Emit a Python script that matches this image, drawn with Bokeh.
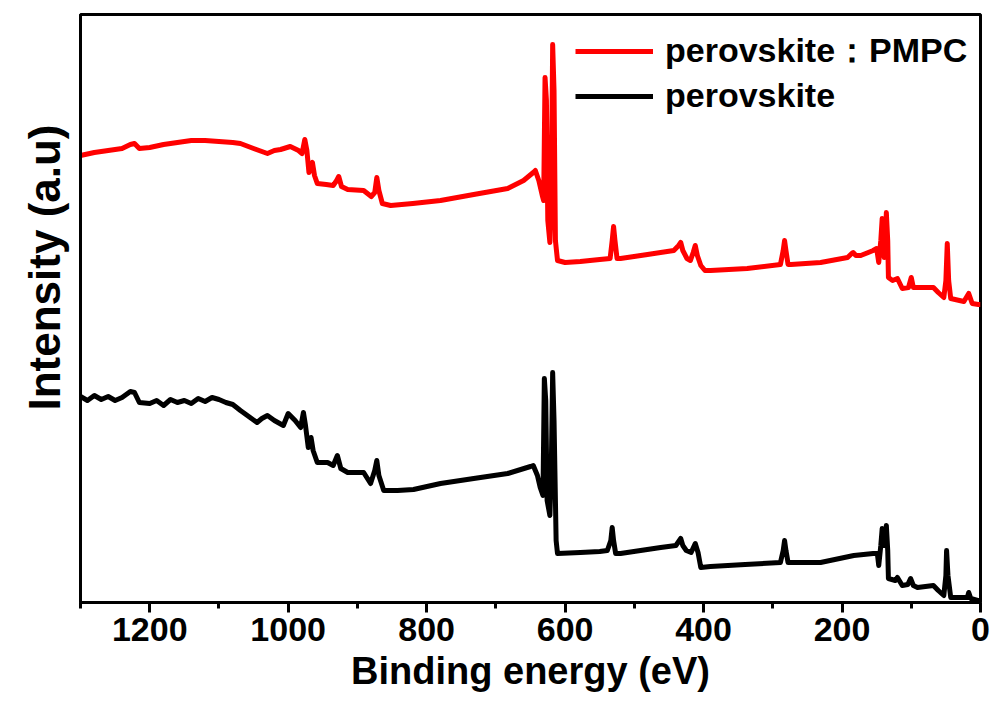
from bokeh.plotting import figure
from bokeh.models import Range1d, FixedTicker, Legend, LegendItem, Title
from bokeh.embed import file_html
from bokeh.resources import INLINE

# ---- data (binding energy in eV, intensity in arbitrary units) ----
pmpc_energy = [1300, 1280, 1260, 1240, 1228, 1222, 1215, 1200, 1180, 1160, 1140, 1120, 1100, 1080,
               1069, 1050, 1030, 1020, 1011, 997, 985, 980, 976, 973, 970, 967, 965, 962, 958, 945,
               935, 930, 927, 923, 914, 891, 880, 875, 872, 869, 864, 852, 820, 780, 732, 683, 660,
               646, 643, 638, 633, 631, 629, 627, 625, 622, 620, 618, 616, 614, 611, 600, 578, 550,
               535, 532, 530, 528, 525, 520, 481, 443, 436, 433, 430, 424, 419, 415, 412, 409, 404,
               398, 390, 337, 289, 285, 283, 281, 278, 274, 231, 192, 186, 184, 180, 173, 155, 150,
               147, 144, 142, 140, 139, 138, 136, 134, 133, 127, 120, 113, 104, 100, 97, 68, 61, 53,
               50, 48, 46, 43, 24, 17, 12, 3, 0]
pmpc_intensity = [447, 450, 452, 454, 458, 459, 454, 455, 458, 460, 462, 462, 461, 460,
                  459, 454, 449, 452, 453, 456, 452, 449, 463, 452, 430, 438, 440, 427, 419, 418,
                  417, 422, 426, 416, 413, 412, 406, 410, 425, 412, 399, 397, 399, 402, 408, 414, 422,
                  430, 432, 422, 407, 402, 525, 502, 382, 360, 402, 558, 512, 362, 342, 340, 341, 343,
                  344, 362, 376, 362, 344, 344, 348, 352, 357, 360, 352, 344, 342, 350, 357, 347, 337,
                  332, 332, 334, 338, 352, 362, 352, 338, 338, 340, 345, 349, 350, 347, 347, 352, 354,
                  340, 362, 384, 357, 345, 352, 390, 362, 325, 322, 324, 314, 315, 325, 315, 315, 310, 305,
                  322, 359, 322, 304, 301, 309, 299, 298, 298]

pero_energy = [1300, 1290, 1280, 1270, 1260, 1250, 1240, 1228, 1222, 1215, 1200, 1190, 1180, 1170,
               1160, 1150, 1140, 1130, 1120, 1110, 1100, 1090, 1080, 1069, 1055, 1045, 1038, 1030,
               1020, 1007, 1000, 990, 982, 978, 975, 971, 967, 964, 958, 943, 935, 929, 924, 914,
               891, 881, 875, 872, 869, 862, 842, 819, 780, 732, 683, 650, 646, 640, 636, 632, 630,
               628, 626, 622, 620, 618, 616, 613, 611, 578, 550, 539, 534, 532, 530, 527, 520, 462,
               440, 433, 430, 425, 418, 412, 408, 404, 390, 340, 289, 285, 283, 281, 278, 231, 183,
               155, 149, 147, 144, 142, 140, 138, 136, 134, 133, 123, 120, 113, 105, 101, 97, 91, 68,
               61, 53, 50, 49, 47, 43, 19, 17, 14, 4, 0]
pero_intensity = [206, 202, 207, 203, 206, 202, 205, 211, 210, 200, 199, 202, 197, 203,
                  200, 202, 199, 204, 201, 205, 203, 200, 198, 192, 185, 180, 184, 187,
                  182, 177, 189, 182, 175, 190, 177, 155, 165, 152, 140, 140, 137, 147, 134, 130,
                  130, 119, 132, 142, 127, 112, 112, 113, 119, 124, 129, 136, 137, 127, 115, 107, 224,
                  202, 102, 87, 132, 230, 182, 62, 49, 50, 51, 52, 62, 75, 62, 49, 49, 55,
                  57, 64, 57, 52, 50, 59, 50, 35, 36, 38, 40, 52, 62, 52, 40, 40, 47,
                  49, 49, 37, 57, 74, 57, 57, 77, 52, 24, 22, 25, 17, 18, 24, 17, 15, 17,
                  12, 7, 27, 52, 27, 5, 5, 10, 4, 2, 2]

x_ticks = [0, 200, 400, 600, 800, 1000, 1200]
x_minor_ticks = [100, 300, 500, 700, 900, 1100, 1300]
series_labels = ["perovskite\uff1aPMPC", "perovskite"]

FONT = "Liberation Sans"

p = figure(width=992, height=702, output_backend="svg", toolbar_location=None,
           x_range=Range1d(1300, 0), y_range=Range1d(0, 588),
           min_border_left=80, min_border_right=12, min_border_top=14, min_border_bottom=100,
           background_fill_color="white", border_fill_color="white")

p.xgrid.grid_line_color = None
p.ygrid.grid_line_color = None
p.outline_line_color = "black"
p.outline_line_width = 3
p.outline_line_alpha = 1.0

r1 = p.line(pmpc_energy, pmpc_intensity, line_color="#ff0000", line_width=5, line_join="round")
r2 = p.line(pero_energy, pero_intensity, line_color="black", line_width=5, line_join="round")

xa = p.xaxis[0]
xa.ticker = FixedTicker(ticks=x_ticks, minor_ticks=x_minor_ticks)
xa.axis_line_width = 3
xa.major_tick_line_width = 3
xa.minor_tick_line_width = 3
xa.major_tick_out = 10
xa.major_tick_in = 0
xa.minor_tick_out = 6
xa.minor_tick_in = 0
xa.major_label_text_font = FONT
xa.major_label_text_font_style = "bold"
xa.major_label_text_font_size = "34px"
xa.major_label_text_color = "black"
xa.major_label_standoff = 5
xa.axis_label = "Binding energy (eV)"
xa.axis_label_text_font = FONT
xa.axis_label_text_font_style = "bold"
xa.axis_label_text_font_size = "38px"
xa.axis_label_text_color = "black"
xa.axis_label_standoff = 6

ya = p.yaxis[0]
ya.ticker = FixedTicker(ticks=[])
ya.axis_line_width = 3
ya.major_tick_line_color = None
ya.minor_tick_line_color = None
ya.major_label_text_font_size = "0px"

ytitle = Title(text="Intensity (a.u)", align="left", vertical_align="top",
               offset=192, standoff=20,
               text_font=FONT, text_font_style="bold", text_font_size="44px",
               text_color="black")
p.add_layout(ytitle, "left")

legend = Legend(items=[LegendItem(label=series_labels[0], renderers=[r1]),
                       LegendItem(label=series_labels[1], renderers=[r2])],
                location=(495, 487), orientation="vertical",
                border_line_color=None, background_fill_alpha=0,
                label_text_font=FONT, label_text_font_style="bold",
                label_text_font_size="34px", label_text_color="black",
                glyph_width=78, glyph_height=38, label_height=38,
                spacing=2, padding=0, margin=0, label_standoff=12)
p.add_layout(legend)

open("out.html", "w").write(file_html(p, INLINE))
